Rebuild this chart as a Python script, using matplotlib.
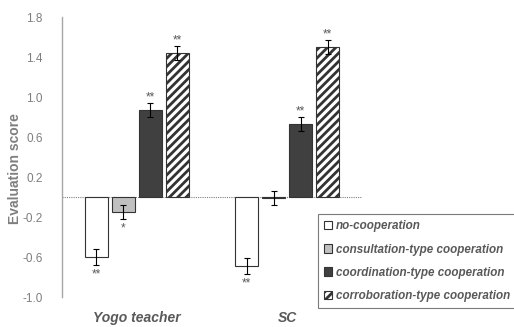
import numpy as np
import matplotlib
matplotlib.use("Agg")
import matplotlib.pyplot as plt

plt.rcParams['font.family'] = ['Liberation Sans', 'DejaVu Sans']
plt.rcParams['hatch.linewidth'] = 2.0

# --------------------- data ---------------------
groups = ["Yogo teacher", "SC"]
series = ["no-cooperation", "consultation-type cooperation",
          "coordination-type cooperation", "corroboration-type cooperation"]
values = [[-0.60, -0.69],
          [-0.15, -0.01],
          [0.87, 0.73],
          [1.44, 1.50]]
errors = [[0.08, 0.08],
          [0.07, 0.07],
          [0.07, 0.07],
          [0.07, 0.07]]
stars = [["**", "**"],
         ["*", ""],
         ["**", "**"],
         ["**", "**"]]

faces = ["white", "#c0c0c0", "#404040", "white"]
hatches = [None, None, None, "////"]
grey = "#595959"

# --------------------- plot ---------------------
fig = plt.figure(figsize=(5.14, 3.27), dpi=100)
ax = fig.add_axes([0.1206, 0.0917, 0.5837, 0.8563])

x = np.arange(len(groups))
step = 0.18
width = 0.147
for i, name in enumerate(series):
    pos = x + (i - 1.5) * step
    ax.bar(pos, values[i], width, color=faces[i], edgecolor="#333333",
           linewidth=0.8, hatch=hatches[i], label=name, zorder=2)
    ax.errorbar(pos, values[i], yerr=errors[i], fmt="none", ecolor="black",
                elinewidth=0.8, capsize=2.5, capthick=0.8, zorder=3)
    for p, v, e, s in zip(pos, values[i], errors[i], stars[i]):
        if not s:
            continue
        if v < 0:
            ax.text(p, v - e - 0.03, s, ha="center", va="top", fontsize=8.5, color=grey)
        else:
            ax.text(p, v + e + 0.0, s, ha="center", va="bottom", fontsize=8.5, color=grey)

ax.axhline(0, color="#808080", lw=0.8, ls=(0, (1, 1)), zorder=1)

ax.set_xlim(-0.5, 1.5)
ax.set_ylim(-1.0, 1.8)
ticks = np.arange(-1.0, 1.81, 0.4)
ax.set_yticks(ticks)
ax.set_yticklabels([f"{t:.1f}" for t in ticks])
ax.tick_params(axis="y", length=0, labelsize=8.5, labelcolor="#7f7f7f", pad=14)
ax.set_xticks([])
for side in ["top", "right", "bottom"]:
    ax.spines[side].set_visible(False)
ax.spines["left"].set_color("#a6a6a6")
ax.spines["left"].set_linewidth(1.0)
ax.set_ylabel("Evaluation score", fontsize=10, color="#7f7f7f",
              fontweight="bold")
ax.yaxis.set_label_coords(-0.133, 0.46)

for xi, g in zip(x, groups):
    ax.text(xi, -1.14, g, ha="center", va="top", fontsize=10, color=grey,
            fontweight="bold", fontstyle="italic")

leg = fig.legend(loc="lower left", bbox_to_anchor=(0.607, 0.04), ncol=1,
                 frameon=True, fancybox=False, edgecolor="#595959",
                 handlelength=0.7, handleheight=0.7, handletextpad=0.3,
                 labelspacing=0.95, borderpad=0.55,
                 prop={"style": "italic", "weight": "bold", "size": 8.4})
leg.get_frame().set_linewidth(0.8)
for t in leg.get_texts():
    t.set_color(grey)

fig.savefig("out.png", dpi=100, facecolor="white")
